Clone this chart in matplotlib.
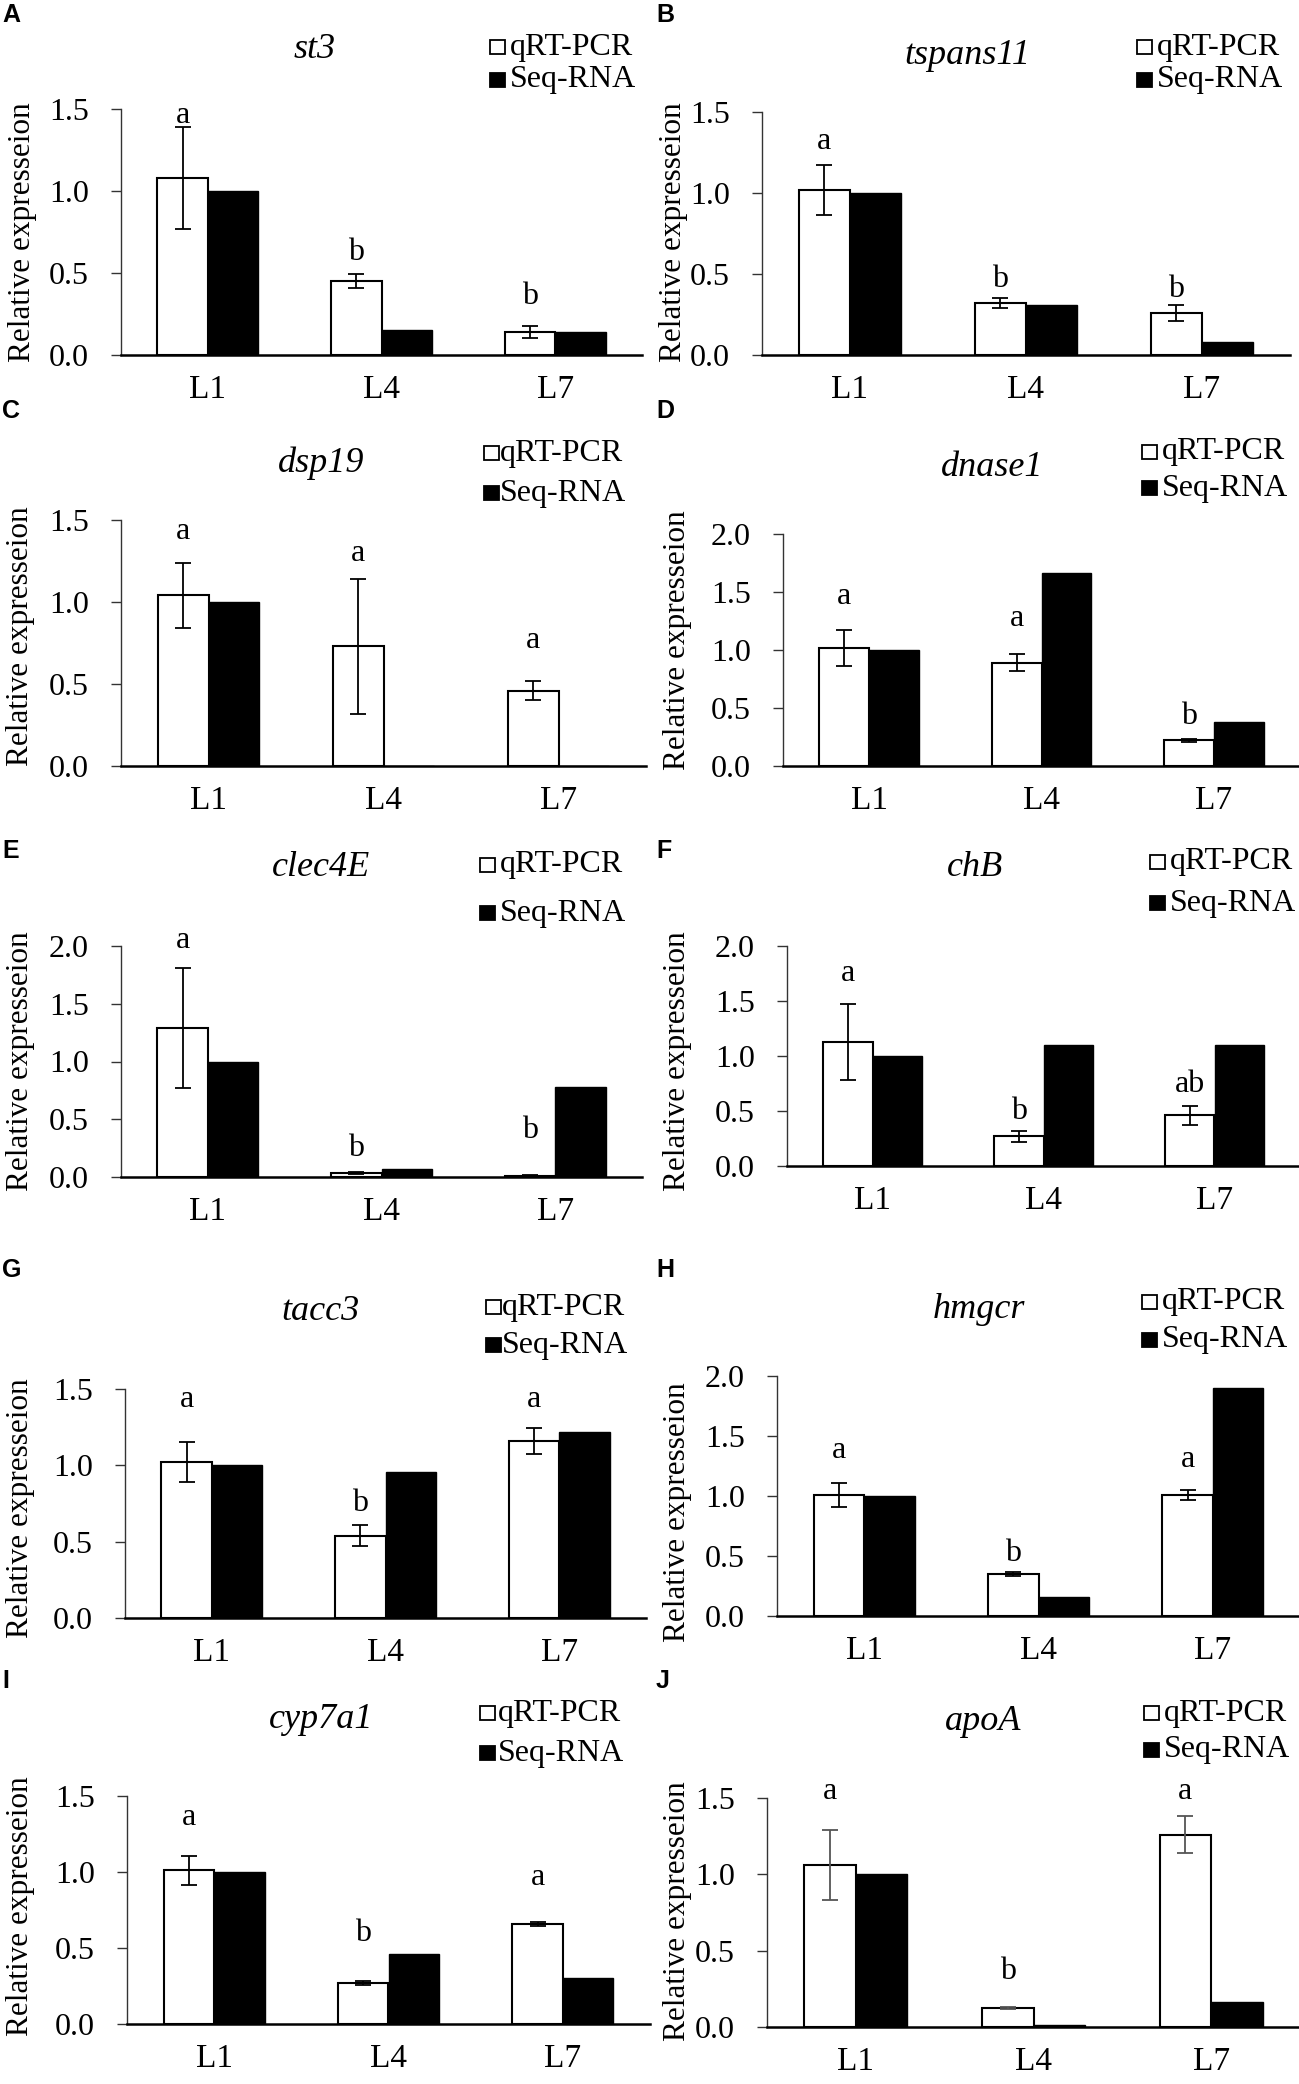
import matplotlib.pyplot as plt
from matplotlib.patches import Rectangle
import numpy as np

plt.rcParams['font.family'] = ['Liberation Serif', 'DejaVu Serif']

W, H = 1299, 2084

stages = ['L1', 'L4', 'L7']
genes = ['st3', 'tspans11', 'dsp19', 'dnase1', 'clec4E',
         'chB', 'tacc3', 'hmgcr', 'cyp7a1', 'apoA']
tags = list('ABCDEFGHIJ')

# qRT-PCR means and error bars, RNA-seq fold change
qpcr = [[1.08, 0.45, 0.14], [1.02, 0.32, 0.26], [1.04, 0.73, 0.46],
        [1.02, 0.89, 0.22], [1.29, 0.035, 0.01], [1.13, 0.27, 0.46],
        [1.02, 0.54, 1.16], [1.01, 0.35, 1.01], [1.01, 0.27, 0.66],
        [1.06, 0.125, 1.26]]
qpcr_err = [[0.31, 0.044, 0.037], [0.155, 0.03, 0.05], [0.2, 0.41, 0.056],
            [0.155, 0.075, 0.01], [0.52, 0.01, 0.005], [0.345, 0.05, 0.083],
            [0.13, 0.071, 0.085], [0.1, 0.015, 0.04], [0.097, 0.012, 0.012],
            [0.23, 0.005, 0.12]]
seq_rna = [[1.0, 0.15, 0.14], [1.0, 0.31, 0.08], [1.0, 0.003, 0.0],
           [1.0, 1.66, 0.38], [1.0, 0.067, 0.78], [1.0, 1.10, 1.10],
           [1.0, 0.956, 1.22], [1.0, 0.16, 1.90], [1.0, 0.46, 0.30],
           [1.0, 0.011, 0.164]]
sig = [['a', 'b', 'b'], ['a', 'b', 'b'], ['a', 'a', 'a'], ['a', 'a', 'b'],
       ['a', 'b', 'b'], ['a', 'b', 'ab'], ['a', 'b', 'a'], ['a', 'b', 'a'],
       ['a', 'b', 'a'], ['a', 'b', 'a']]
sig_y = [[1.463, 0.626, 0.355], [1.318, 0.468, 0.406], [1.43, 1.297, 0.768],
         [1.46, 1.273, 0.425], [2.05, 0.246, 0.405], [1.752, 0.494, 0.745],
         [1.43, 0.749, 1.43], [1.383, 0.522, 1.306], [1.358, 0.595, 0.961],
         [1.54, 0.361, 1.54]]
ymax = [1.5, 1.5, 1.5, 2.0, 2.0, 2.0, 1.5, 2.0, 1.5, 1.5]

# layout in pixels: axes left, right, zero line, top tick
frames = [(121, 642, 355, 109), (762, 1290, 355, 112),
          (121, 646, 766, 520), (783, 1300, 766, 534),
          (121, 642, 1177, 946), (787, 1300, 1166, 946),
          (125, 646, 1618, 1389), (777, 1300, 1616, 1376),
          (127, 650, 2024, 1796), (767, 1300, 2027, 1798)]
title_pos = [(315, 50), (967, 55), (321, 463), (992, 467), (321, 868),
             (975, 867), (321, 1312), (979, 1310), (321, 1720), (983, 1722)]
# legend: square left, text left, row 1 y, row 2 y
leg_pos = [(490, 510, 47, 80), (1137, 1157, 47, 80), (484, 500, 453, 493),
           (1142, 1162, 452, 488), (480, 500, 865, 913), (1150, 1170, 862, 903),
           (486, 502, 1307, 1345), (1142, 1162, 1302, 1340),
           (480, 498, 1713, 1753), (1144, 1164, 1713, 1750)]
ylab_pos = [(23, 232), (673, 232), (21, 636), (677, 640), (21, 1061),
            (677, 1061), (21, 1508), (677, 1512), (21, 1906), (677, 1911)]
tag_pos = [(2, 3), (656, 3), (2, 399), (656, 399), (2, 839), (656, 839),
           (2, 1258), (656, 1258), (2, 1669), (656, 1669)]


def fx(x):
    return x / W


def fy(y):
    return 1 - y / H


fig = plt.figure(figsize=(W / 100, H / 100), dpi=100)
w = 0.29
x = np.arange(3)

for i in range(10):
    l, r, y0, yt = frames[i]
    ax = fig.add_axes([fx(l), fy(y0), (r - l) / W, (y0 - yt) / H])
    ecol = '#555555' if i == 9 else 'black'
    ax.bar(x - w / 2, qpcr[i], w, color='white', edgecolor='black', linewidth=1.5,
           yerr=qpcr_err[i], capsize=6,
           error_kw=dict(elinewidth=1.3, capthick=1.3, ecolor=ecol))
    ax.bar(x + w / 2, seq_rna[i], w, color='black', edgecolor='black', linewidth=1.0)
    for j in range(3):
        ax.text(x[j] - w / 2, sig_y[i][j], sig[i][j], ha='center', va='center',
                fontsize=23, clip_on=False)
    ax.set_xlim(-0.5, 2.5)
    ax.set_ylim(0, ymax[i])
    ax.set_yticks(np.arange(0, ymax[i] + 0.01, 0.5))
    ax.yaxis.set_major_formatter('{x:.1f}')
    ax.set_xticks(x, stages)
    for s in ['top', 'right']:
        ax.spines[s].set_visible(False)
    ax.spines['left'].set_linewidth(1.0)
    ax.spines['left'].set_color('#333333')
    ax.spines['bottom'].set_linewidth(1.8)
    ax.tick_params(axis='y', direction='out', length=7, width=1.0,
                   color='#333333', labelsize=23, pad=16)
    ax.tick_params(axis='x', length=0, labelsize=24, pad=14)

    # title, y label, panel tag
    tx, ty = title_pos[i]
    fig.text(fx(tx), fy(ty), genes[i], ha='center', va='center',
             fontsize=26, style='italic')
    lx, ly = ylab_pos[i]
    fig.text(fx(lx), fy(ly), 'Relative expresseion', ha='center', va='center',
             rotation=90, fontsize=22.5)
    gx, gy = tag_pos[i]
    fig.text(fx(gx), fy(gy), tags[i], ha='left', va='top', fontsize=18,
             fontweight='bold', family=['Liberation Sans', 'DejaVu Sans'])

    # legend
    sq, tl, r1, r2 = leg_pos[i]
    for yy, fc, lab in [(r1, 'white', 'qRT-PCR'), (r2, 'black', 'Seq-RNA')]:
        fig.add_artist(Rectangle((fx(sq), fy(yy + 7)), 15 / W, 14 / H,
                                 transform=fig.transFigure, facecolor=fc,
                                 edgecolor='black', linewidth=1.3))
        fig.text(fx(tl), fy(yy), lab, ha='left', va='center', fontsize=23)

fig.savefig('out.png', dpi=100)
